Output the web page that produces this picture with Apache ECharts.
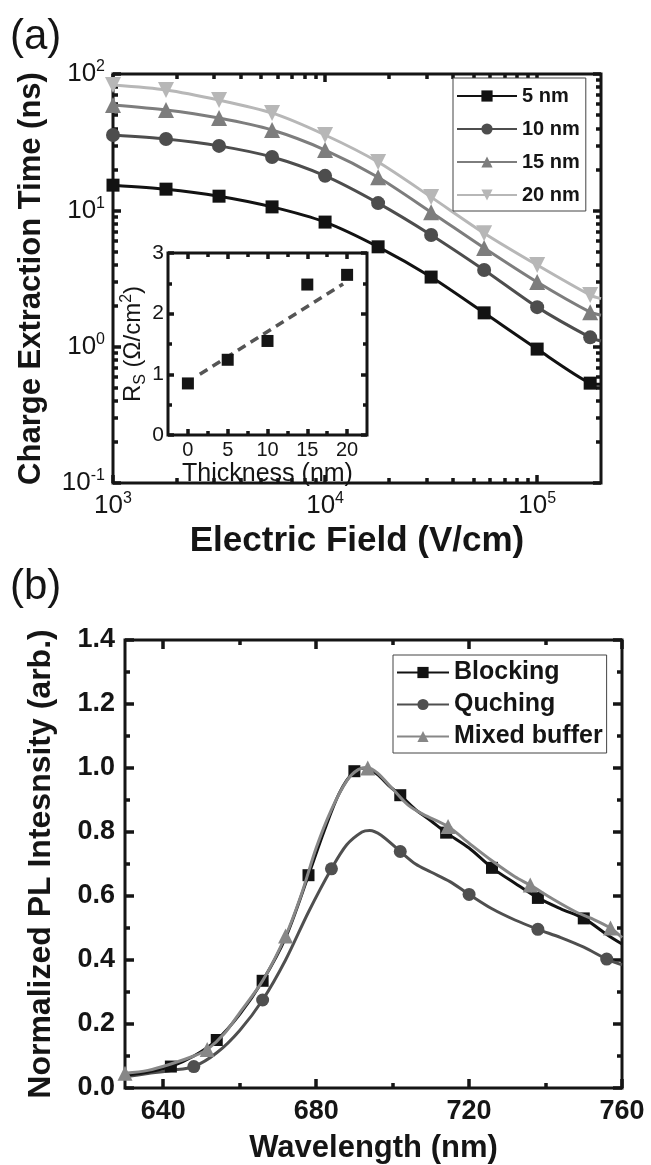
<!DOCTYPE html>
<html><head><meta charset="utf-8">
<script src="https://cdn.jsdelivr.net/npm/echarts@6/dist/echarts.min.js"></script>
<style>html,body{margin:0;padding:0;background:#fff}#c{width:651px;height:1165px}</style>
</head><body><div id="c"></div>
<script>
// ---------- Panel (a) data ----------
const fieldX = [1000, 1778, 3162, 5623, 10000, 17783, 31623, 56234, 100000, 177828, 200000];
const fieldMarked = 10; // first 10 points carry markers; the last is the line end at the frame
const t5nm  = [15.3, 14.3, 12.7, 10.6, 8.2, 5.4, 3.24, 1.77, 0.96, 0.54, 0.53];
const t10nm = [35.7, 33.4, 29.7, 24.6, 17.9, 11.3, 6.6, 3.65, 1.95, 1.17, 1.1];
const t15nm = [59.3, 54.5, 47.5, 38.8, 27.7, 17.5, 9.7, 5.3, 2.98, 1.79, 1.7];
const t20nm = [83, 76.4, 64.4, 51.8, 35.7, 22.6, 12.5, 6.8, 3.97, 2.39, 2.25];
const thicknessNames = ['5 nm', '10 nm', '15 nm', '20 nm'];
const fieldMajor = [1000, 10000, 100000];
const fieldMinor = [2000, 3000, 4000, 5000, 6000, 7000, 8000, 9000, 20000, 30000, 40000, 50000, 60000, 70000, 80000, 90000];
const timeMajor = [0.1, 1, 10, 100];
const timeMinor = [0.2, 0.3, 0.4, 0.5, 0.6, 0.7, 0.8, 0.9, 2, 3, 4, 5, 6, 7, 8, 9, 20, 30, 40, 50, 60, 70, 80, 90];

// inset
const insetThick = [0, 5, 10, 15, 20];
const insetRs = [0.85, 1.24, 1.55, 2.48, 2.64];
const fitThick = [1.5, 19.5];
const fitRs = [1.0, 2.49];
const thickMajor = [0, 5, 10, 15, 20];
const thickMinor = [2.5, 7.5, 12.5, 17.5];
const rsMajor = [0, 1, 2, 3];
const rsMinor = [0.5, 1.5, 2.5];

// ---------- Panel (b) data ----------
const blockX = [630,636,642,648,654,660,666,672,678,682,686,690,693,696,699,702,706,710,714,720,726,732,738,744,750,756,760];
const blockY = [0.04,0.05,0.067,0.10,0.15,0.23,0.335,0.47,0.665,0.80,0.92,0.99,1.0,0.98,0.945,0.915,0.87,0.835,0.798,0.75,0.688,0.64,0.594,0.56,0.53,0.48,0.45];
const blockMarks = [642,654,666,678,690,702,714,726,738,750];

const quchX = [630,636,642,648,654,660,666,672,678,684,688,692,694,697,702,706,710,715,720,726,732,738,744,750,756,760];
const quchY = [0.035,0.045,0.055,0.067,0.11,0.18,0.275,0.40,0.55,0.685,0.76,0.80,0.805,0.79,0.739,0.70,0.675,0.645,0.605,0.56,0.525,0.496,0.47,0.44,0.403,0.385];
const quchMarks = [648,666,684,702,720,738,756];

const mixX = [630,636,642,648,651.5,656,660,666,672,676,680,684,688,691,693.5,696,700,704,708,714.5,720,726,732,736,742,748,752,757,760];
const mixY = [0.046,0.055,0.075,0.10,0.12,0.17,0.235,0.335,0.475,0.60,0.75,0.87,0.96,0.995,1.0,0.985,0.935,0.885,0.855,0.817,0.765,0.71,0.66,0.634,0.59,0.55,0.53,0.50,0.47];
const mixMarks = [630,651.5,672,693.5,714.5,736,757];

const wlMajor = [640, 680, 720, 760];
const wlMinor = [660, 700, 740];
const plMajor = [0, 0.2, 0.4, 0.6, 0.8, 1.0, 1.2, 1.4];
const plMinor = [0.1, 0.3, 0.5, 0.7, 0.9, 1.1, 1.3];

// ---------- styling ----------
const F = '"Liberation Sans", Arial, Helvetica, sans-serif';
const INK = '#151515';
const chart = echarts.init(document.getElementById('c'));

function supLabel(v) {
  const l = Math.log10(v), e = Math.round(l);
  if (Math.abs(l - e) > 1e-6) return '';
  return '{b|10}{s|' + e + '}';
}
const supRich = {
  b: {fontFamily: F, fontSize: 26, color: INK, lineHeight: 30},
  s: {fontFamily: F, fontSize: 16, color: INK, lineHeight: 16, verticalAlign: 'top'}
};
const titleStyle = (sz) => ({fontFamily: F, fontWeight: 'bold', fontSize: sz, color: INK});

// 4 axes per dimension: [main (labels + major ticks), minor overlay, mirror major, mirror minor].
// The frame itself is the grid border.
function axisSet(dim, grid, type, min, max, major, minor, majLen, minLen, label, nameCfg, z) {
  const pos = dim === 'x' ? ['bottom', 'top'] : ['left', 'right'];
  const base = {gridIndex: grid, type: type, min: min, max: max, z: z || 0,
    axisLine: {show: false, onZero: false},
    splitLine: {show: false}, minorTick: {show: false}, minorSplitLine: {show: false}};
  if (type === 'log') base.logBase = 10;
  const tk = (vals, len) => ({show: true, inside: true, length: len, customValues: vals, lineStyle: {color: INK, width: 3.5}});
  const mk = (p, vals, len, lab) => Object.assign({}, base, {
    position: p, axisTick: tk(vals, len),
    axisLabel: lab ? Object.assign({customValues: major}, lab) : {show: false}
  });
  const main = Object.assign(mk(pos[0], major, majLen, label), nameCfg || {});
  return [main, mk(pos[0], minor, minLen, null), mk(pos[1], major, majLen, null), mk(pos[1], minor, minLen, null)];
}

function markedData(xs, ys, marks, size) {
  return xs.map((x, i) => ({value: [x, ys[i]], symbolSize: marks.indexOf(x) >= 0 ? size : 0}));
}
function fieldData(ys, size) {
  return fieldX.map((x, i) => ({value: [x, ys[i]], symbolSize: i < fieldMarked ? size : 0}));
}

const colorsA = ['#121212', '#4d4d4d', '#7d7d7d', '#b7b7b7'];
const symA = ['rect', 'circle', 'triangle', 'triangle'];
const sizeA = [13, 14, 16, 16];
const seriesA = [t5nm, t10nm, t15nm, t20nm].map((ys, k) => ({
  name: thicknessNames[k], type: 'line', xAxisIndex: 0, yAxisIndex: 0,
  symbol: symA[k], symbolRotate: k === 3 ? 180 : 0, symbolSize: sizeA[k],
  showAllSymbol: true, smooth: 0.25,
  data: fieldData(ys, sizeA[k]),
  lineStyle: {color: colorsA[k], width: 3}, itemStyle: {color: colorsA[k]}, z: 2
}));

const xAxes = [].concat(
  axisSet('x', 0, 'log', 1000, 200000, fieldMajor, fieldMinor, 8, 5,
    {formatter: supLabel, rich: supRich, margin: 8},
    {name: 'Electric Field (V/cm)', nameLocation: 'middle', nameGap: 41, nameTextStyle: titleStyle(35)}),
  axisSet('x', 1, 'value', -2.5, 22.5, thickMajor, thickMinor, 6, 4,
    {fontFamily: F, fontSize: 20, color: INK, margin: 5},
    {name: 'Thickness (nm)', nameLocation: 'middle', nameGap: 27, nameTextStyle: {fontFamily: F, fontSize: 25, color: INK}}, 6),
  axisSet('x', 2, 'value', 630, 760, wlMajor, wlMinor, 9, 5,
    {fontFamily: F, fontWeight: 'bold', fontSize: 27, color: INK, margin: 10},
    {name: 'Wavelength (nm)', nameLocation: 'middle', nameGap: 45, nameTextStyle: titleStyle(31)})
);
const yAxes = [].concat(
  axisSet('y', 0, 'log', 0.1, 100, timeMajor, timeMinor, 8, 5,
    {formatter: supLabel, rich: supRich, margin: 8},
    {name: 'Charge Extraction Time (ns)', nameLocation: 'middle', nameGap: 66, nameTextStyle: titleStyle(31)}),
  axisSet('y', 1, 'value', 0, 3, rsMajor, rsMinor, 6, 4,
    {fontFamily: F, fontSize: 21, color: INK, margin: 4},
    {name: '{n|R}{sub|S}{n| (Ω/cm}{sup|2}{n|)}', nameLocation: 'middle', nameGap: 19,
     nameTextStyle: {rich: {
       n: {fontFamily: F, fontSize: 24, color: INK, lineHeight: 30},
       sub: {fontFamily: F, fontSize: 16, color: INK, lineHeight: 16, verticalAlign: 'bottom'},
       sup: {fontFamily: F, fontSize: 16, color: INK, lineHeight: 16, verticalAlign: 'top'}
     }}}, 6),
  axisSet('y', 2, 'value', 0, 1.4, plMajor, plMinor, 9, 5,
    {fontFamily: F, fontWeight: 'bold', fontSize: 27, color: INK, margin: 10, formatter: v => v.toFixed(1)},
    {name: 'Normalized PL Intesnsity (arb.)', nameLocation: 'middle', nameGap: 68, nameTextStyle: titleStyle(32)})
);

const option = {
  animation: false,
  backgroundColor: '#fff',
  textStyle: {fontFamily: F},
  graphic: [
    {type: 'text', left: 10, top: 16, style: {text: '(a)', font: '42px "Liberation Sans", Arial', fill: INK}},
    {type: 'text', left: 10, top: 566, style: {text: '(b)', font: '42px "Liberation Sans", Arial', fill: INK}}
  ],
  grid: [
    {left: 113, top: 74, width: 488, height: 409, show: true, borderColor: INK, borderWidth: 3, backgroundColor: 'transparent'},
    {left: 168, top: 253, width: 199, height: 182, show: true, backgroundColor: '#fff', borderColor: INK, borderWidth: 3, z: 5},
    {left: 125, top: 640, width: 497, height: 450, show: true, borderColor: INK, borderWidth: 3, backgroundColor: 'transparent'}
  ],
  legend: [
    {left: 453, top: 78, orient: 'vertical', data: thicknessNames, itemWidth: 60, itemHeight: 14, itemGap: 13,
     padding: [8, 6, 6, 3], borderColor: '#444', borderWidth: 1, backgroundColor: '#fff',
     textStyle: {fontFamily: F, fontWeight: 'bold', fontSize: 20, color: INK}},
    {left: 393, top: 655, orient: 'vertical', data: ['Blocking', 'Quching', 'Mixed buffer'], itemWidth: 52, itemHeight: 14, itemGap: 7,
     padding: [5, 4, 4, 3], borderColor: '#444', borderWidth: 1, backgroundColor: '#fff',
     textStyle: {fontFamily: F, fontWeight: 'bold', fontSize: 25, color: INK}}
  ],
  xAxis: xAxes,
  yAxis: yAxes,
  series: seriesA.concat([
    {name: 'Rs', type: 'scatter', xAxisIndex: 4, yAxisIndex: 4, symbol: 'rect', symbolSize: 12, z: 7,
     data: insetThick.map((t, i) => [t, insetRs[i]]), itemStyle: {color: INK, opacity: 1}},
    {name: 'fit', type: 'line', xAxisIndex: 4, yAxisIndex: 4, showSymbol: false, z: 6,
     data: fitThick.map((t, i) => [t, fitRs[i]]), lineStyle: {color: '#555', width: 3.5, type: [9, 6]}},
    {name: 'Blocking', type: 'line', xAxisIndex: 8, yAxisIndex: 8, symbol: 'rect', symbolSize: 12, showAllSymbol: true, smooth: 0.3,
     data: markedData(blockX, blockY, blockMarks, 12), lineStyle: {color: '#121212', width: 3}, itemStyle: {color: '#121212'}, z: 3},
    {name: 'Quching', type: 'line', xAxisIndex: 8, yAxisIndex: 8, symbol: 'circle', symbolSize: 13, showAllSymbol: true, smooth: 0.3,
     data: markedData(quchX, quchY, quchMarks, 13), lineStyle: {color: '#4f4f4f', width: 3}, itemStyle: {color: '#4f4f4f'}, z: 2},
    {name: 'Mixed buffer', type: 'line', xAxisIndex: 8, yAxisIndex: 8, symbol: 'triangle', symbolSize: 15, showAllSymbol: true, smooth: 0.3,
     data: markedData(mixX, mixY, mixMarks, 15), lineStyle: {color: '#878787', width: 3}, itemStyle: {color: '#878787'}, z: 4}
  ])
};
chart.setOption(option);
</script>
</body></html>
